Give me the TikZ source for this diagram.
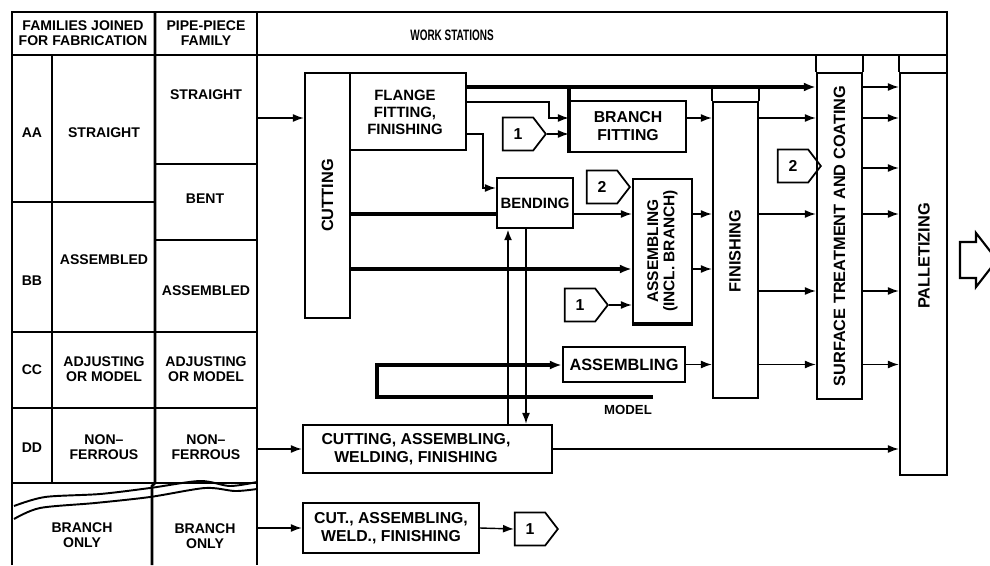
\documentclass[tikz,border=0pt]{standalone}
\usepackage{fontspec}
\setmainfont{Liberation Sans}
\usetikzlibrary{arrows.meta, positioning, fit, calc, shapes.symbols}

\newcommand{\fsz}[2]{\bfseries\fontsize{#1}{#2}\selectfont}

\begin{document}
\begin{tikzpicture}[x=0.02cm, y=-0.02cm, >=Latex,
        tbl/.style={line width=1.6pt},
        box/.style={draw, line width=1.3pt, inner sep=0pt},
        btxt/.style={inner sep=0pt, align=center, font=\fsz{9}{10.2}},
        cell/.style={inner sep=0pt, align=center, font=\fsz{8}{8.8}},
        vtxt/.style={rotate=90, align=center, font=\fsz{9.3}{9.5}},
        tr/.style={-{Latex[length=2.2mm, width=1.6mm]}, line width=0.8pt},
        thk/.style={line width=2pt},
        trk/.style={-{Latex[length=2.4mm, width=1.8mm]}, line width=2pt},
        numtag/.style={signal, signal to=east, draw, line width=1pt, signal pointer angle=105,
            minimum width=0.86cm, minimum height=0.66cm, inner sep=0pt, font=\fsz{9}{10}}]
    \clip (0,0) rectangle (990,565);

    % table frame
    \draw[tbl] (12,565) -- (12,12) -- (947,12) -- (947,73);
    \draw[tbl] (12,55) -- (947,55);
    \draw[tbl] (52,55) -- (52,483);
    \draw[tbl] (155,12) -- (155,483) -- (152,486) -- (152,565);
    \draw[tbl] (257,12) -- (257,565);
    \foreach \yy in {202,332,408} \draw[tbl] (12,\yy) -- (155,\yy);
    \foreach \yy in {164,240,332,408} \draw[tbl] (155,\yy) -- (257,\yy);
    \draw[tbl] (12,483) -- (257,483);
    \draw[line width=1.1pt] plot[smooth] coordinates {(14,506) (45,497) (100,494) (150,488) (200,481) (230,486) (257,482)};
    \draw[line width=1.1pt] plot[smooth] coordinates {(14,519) (40,508) (95,503) (150,497) (205,488) (235,491) (257,489)};

    \node[cell] (hfam) at (83,33) {FAMILIES JOINED\\FOR FABRICATION};
    \node[cell] (hpipe) at (206,33) {PIPE-PIECE\\FAMILY};
    \node[cell, font=\fsz{8.6}{9}, xscale=0.66, transform shape] (hws) at (452,35) {WORK STATIONS};

    \node[cell] (fAA) at (32,133) {AA};
    \node[cell] (fBB) at (32,281) {BB};
    \node[cell] (fCC) at (32,370) {CC};
    \node[cell] (fDD) at (32,448) {DD};
    \node[cell] (jstr) at (104,133) {STRAIGHT};
    \node[cell] (jasm) at (104,260) {ASSEMBLED};
    \node[cell] (jadj) at (104,369) {ADJUSTING\\OR MODEL};
    \node[cell] (jnon) at (104,447) {NON--\\FERROUS};
    \node[cell] (jbr) at (82,535) {BRANCH\\ONLY};
    \node[cell] (pstr) at (206,95) {STRAIGHT};
    \node[cell] (pbent) at (205,199) {BENT};
    \node[cell] (pasm) at (206,291) {ASSEMBLED};
    \node[cell] (padj) at (206,369) {ADJUSTING\\OR MODEL};
    \node[cell] (pnon) at (206,447) {NON--\\FERROUS};
    \node[cell] (pbr) at (205,536) {BRANCH\\ONLY};

    % work stations
    \node[box, fit={(305,73)(350,318)}] (cut) {};
    \node[vtxt] (cutT) at (cut) {CUTTING};
    \node[box, fit={(350,73)(466,150)}] (flange) {};
    \node[btxt, font=\fsz{8.5}{9.6}] (flangeT) at (405,112) {FLANGE\\FITTING,\\FINISHING};
    \node[box, fit={(570,101)(686,152)}] (bfit) {};
    \node[btxt] (bfitT) at (bfit) {BRANCH\\FITTING};
    \node[box, fit={(497,178)(573,228)}] (bend) {};
    \node[btxt, font=\fsz{8.5}{9}] (bendT) at (bend) {BENDING};
    \node[box, fit={(633,179)(692,323)}] (asmb) {};
    \draw[line width=2.6pt] (asmb.south west) -- (asmb.south east);
    \node[vtxt, font=\fsz{8.8}{9.2}] (asmbT) at (asmb) {ASSEMBLING\\(INCL. BRANCH)};
    \node[box, fit={(713,102)(758,398)}] (fin) {};
    \node[vtxt] (finT) at (735,251) {FINISHING};
    \node[box, fit={(817,73)(862,399)}] (surf) {};
    \node[vtxt] (surfT) at (surf) {SURFACE TREATMENT AND COATING};
    \node[box, fit={(900,73)(947,475)}] (pal) {};
    \node[vtxt] (palT) at (924,256) {PALLETIZING};
    \draw[line width=1.3pt] (surf.north west) -- ++(0,-18);
    \draw[line width=1.3pt] (surf.north east) -- ++(0,-18);
    \draw[line width=1.3pt] (pal.north west) -- ++(0,-18);
    \node[box, fit={(563,347)(685,382)}] (asm) {};
    \node[btxt, font=\fsz{9.3}{10}] (asmT) at (asm) {ASSEMBLING};
    \node[box, fit={(303,425)(552,473)}] (caw) {};
    \node[btxt] (cawT) at (416,449) {CUTTING, ASSEMBLING,\\WELDING, FINISHING};
    \node[box, fit={(303,503)(479,553)}] (cawb) {};
    \node[btxt] (cawbT) at (cawb) {CUT., ASSEMBLING,\\WELD., FINISHING};

    \node[numtag] (t1a) at (518,134) {1};
    \node[numtag] (t2a) at (602,187) {2};
    \node[numtag] (t1b) at (580,305) {1};
    \node[numtag] (t2b) at (793,166) {2};
    \node[numtag] (t1c) at (530,529) {1};

    % lanes
    \coordinate (lnTop) at (0,87);
    \coordinate (lnH) at (0,102);
    \coordinate (lnF) at (0,118);
    \coordinate (lnE) at (0,168);
    \coordinate (lnJ) at (0,188);
    \coordinate (lnB) at (0,214);
    \coordinate (lnC) at (0,269);
    \coordinate (lnD) at (0,291);
    \coordinate (colR) at (257,0);
    \coordinate (lnU) at (508,0);
    \coordinate (lnV) at (526,0);
    \coordinate (mdlA) at (377,365);
    \coordinate (mdlB) at (653,397);

    \draw[line width=1.3pt] (fin.north west) -- ++(0,-12);
    \draw[line width=1.3pt] (fin.north east) -- ++(0,-12);
    \draw[tr] (colR |- lnF) -- (cut.west |- lnF);
    \draw[tr] (colR |- caw.west) -- (caw.west);
    \draw[tr] (colR |- cawb.west) -- (cawb.west);
    \draw[tr] (cawb.east) -- (t1c.west);
    \draw[tr] (caw.east) -- (caw.east -| pal.west);
    \draw[trk] (flange.east |- lnTop) -- (surf.west |- lnTop);
    \draw[thk] (bfit.south west) -- (bfit.north west |- lnTop);
    \draw[tr] (flange.east |- lnH) -- ++(82,0) |- (bfit.west |- lnF);
    \draw[tr] (t1a.east) -- (t1a.east -| bfit.west);
    \draw[tr] (flange.east |- t1a.east) -- ++(16,0) |- (bend.west |- lnJ);
    \draw[thk] (cut.east |- lnB) -- (bend.west |- lnB);
    \draw[tr] (bend.east |- lnB) -- (asmb.west |- lnB);
    \draw[trk] (cut.east |- lnC) -- (asmb.west |- lnC);
    \draw[tr] (t1b.east) -- (t1b.east -| asmb.west);
    \draw[tr, line width=1.5pt] (lnU |- caw.north) -- (lnU |- bend.south);
    \draw[tr] (lnV |- bend.south) -- (lnV |- caw.north);
    \draw[trk] (mdlB) -| (mdlA) -- (mdlA -| asm.west);
    \node[cell, font=\fsz{7.5}{8}] (model) at (628,410) {MODEL};
    \draw[tr] (bfit.east |- lnF) -- (fin.west |- lnF);
    \draw[tr] (asmb.east |- lnB) -- (fin.west |- lnB);
    \draw[tr] (asmb.east |- lnC) -- (fin.west |- lnC);
    \draw[tr] (asm.east) -- (asm.east -| fin.west);
    \foreach \ln in {lnF, lnB, lnD} \draw[tr] (fin.east |- \ln) -- (surf.west |- \ln);
    \draw[tr] (fin.east |- asm.east) -- (surf.west |- asm.east);
    \foreach \ln in {lnTop, lnF, lnE, lnB, lnD} \draw[tr] (surf.east |- \ln) -- (pal.west |- \ln);
    \draw[tr] (surf.east |- asm.east) -- (pal.west |- asm.east);

    % outgoing block arrow
    \draw[line width=1.2pt] (960,242) -- (976,242) -- (976,233) -- (997,260) -- (976,287) -- (976,278) -- (960,278) -- cycle;
\end{tikzpicture}
\end{document}
